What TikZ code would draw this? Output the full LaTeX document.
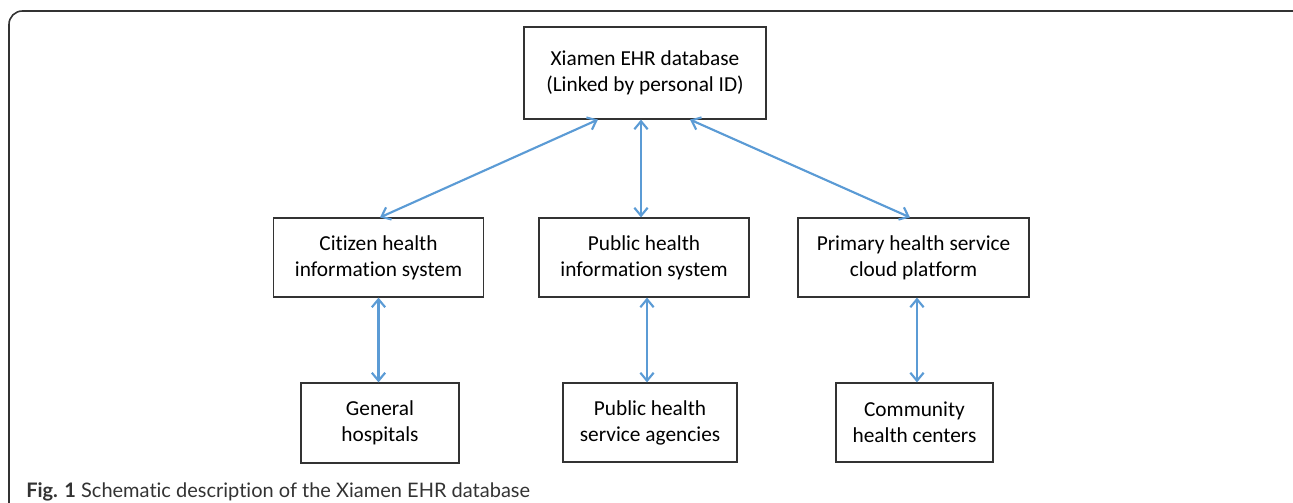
\documentclass[tikz,border=0pt]{standalone}
\usepackage{fontspec}
\setmainfont{Carlito}[Ligatures=NoCommon]
\newfontfamily\captionfont{Lato}[Ligatures=NoCommon]
\usepackage{tikz}
\usetikzlibrary{arrows.meta,positioning}
\definecolor{linkblue}{HTML}{5B9BD5}
\definecolor{framegray}{HTML}{333333}
\tikzset{
  ehrbox/.style={draw=framegray, line width=0.9pt, align=center, inner sep=0pt,
    font=\fontsize{16}{19.5}\selectfont, text=black},
  link/.style={draw=linkblue, line width=1.6pt, {Straight Barb[length=6pt,width=10pt]}-{Straight Barb[length=6pt,width=10pt]}}
}

\begin{document}
\begin{tikzpicture}[x=0.75pt,y=-0.75pt]
\useasboundingbox (0,0) rectangle (1293,503);
\draw[framegray, line width=1.2pt, rounded corners=10pt] (9,540) -- (9,11) -- (1310,11) -- (1310,540);
\node[ehrbox, minimum width=181.5pt, minimum height=69pt] (db) at (645,73) {Xiamen EHR database\\(Linked by personal ID)};
\node[ehrbox, minimum width=157.5pt, minimum height=59.25pt] (chis) at (378.5,257.5) {Citizen health\\information system};
\node[ehrbox, minimum width=157.5pt, minimum height=59.25pt] (phis) at (644,257.5) {Public health\\information system};
\node[ehrbox, minimum width=173.25pt, minimum height=59.25pt] (phscp) at (913.5,257.5) {Primary health service\\cloud platform};
\node[ehrbox, minimum width=118.5pt, minimum height=60pt] (gh) at (380,423) {General\\hospitals};
\node[ehrbox, minimum width=130.5pt, minimum height=59.25pt] (phsa) at (650,422.5) {Public health\\service agencies};
\node[ehrbox, minimum width=117.75pt, minimum height=59.25pt] (chc) at (914.5,422.5) {Community\\health centers};
% links
\draw[link] ([xshift=-35.25pt]db.south) -- ([xshift=1.1pt]chis.north);
\draw[link] ([xshift=-3pt]db.south) -- ([xshift=-2.25pt]phis.north);
\draw[link] ([xshift=33.75pt]db.south) -- ([xshift=-2.6pt]phscp.north);
\draw[link] (chis.south) -- (chis.south |- gh.north);
\draw[link] ([xshift=2.25pt]phis.south) -- ([xshift=2.25pt]phis.south |- phsa.north);
\draw[link] ([xshift=2.6pt]phscp.south) -- ([xshift=2.6pt]phscp.south |- chc.north);
\node[anchor=base west, inner sep=0pt, font=\captionfont\fontsize{15}{18}\selectfont, text=framegray] (cap) at (26,497) {\textbf{Fig. 1} Schematic description of the Xiamen EHR database};
\end{tikzpicture}
\end{document}
